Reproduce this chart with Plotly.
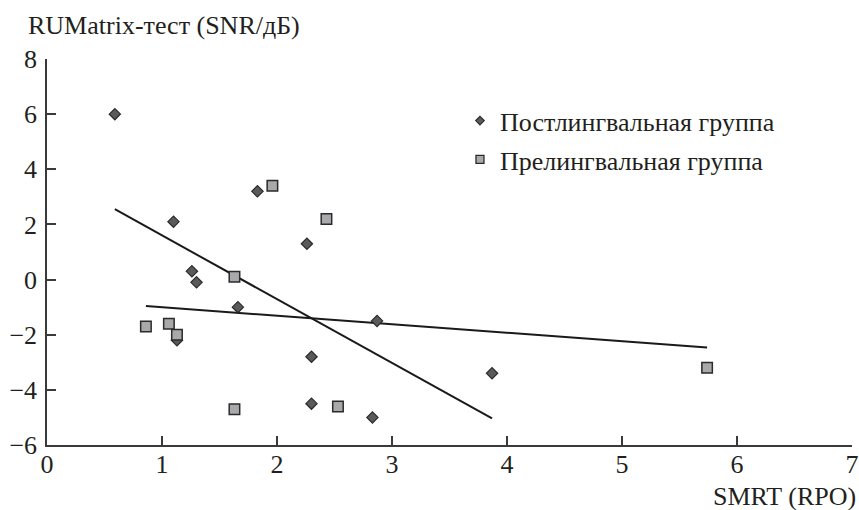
import numpy as np
import plotly.graph_objects as go

# Postlingual group (SMRT RPO, RUMatrix SNR dB)
post_x = [0.59, 1.83, 1.10, 2.26, 1.26, 1.30, 1.66, 2.87, 1.13, 2.30, 2.30, 2.83, 3.87]
post_y = [6.0, 3.2, 2.1, 1.3, 0.3, -0.1, -1.0, -1.5, -2.2, -2.8, -4.5, -5.0, -3.4]

# Prelingual group
pre_x = [1.96, 2.43, 1.63, 0.86, 1.06, 1.13, 1.63, 2.53, 5.74]
pre_y = [3.4, 2.2, 0.1, -1.7, -1.6, -2.0, -4.7, -4.6, -3.2]

x_ticks = [0, 1, 2, 3, 4, 5, 6, 7]
y_ticks = [-6, -4, -2, 0, 2, 4, 6, 8]

legend_post = "Постлингвальная группа"
legend_pre = "Прелингвальная группа"
y_title = "RUMatrix-тест (SNR/дБ)"
x_title = "SMRT (RPO)"

FONT = "Liberation Serif"
FS = 26
TXT = "#231f20"
AX = "#3a3a3a"
POST_FILL = "#5a5a5a"
PRE_FILL = "#a9a9ac"
EDGE = "#2b2b2b"


def fit_line(xs, ys):
    xs = np.asarray(xs, float)
    ys = np.asarray(ys, float)
    k, b = np.polyfit(xs, ys, 1)
    lx = np.array([xs.min(), xs.max()])
    return lx, k * lx + b


fig = go.Figure()

plx, ply = fit_line(post_x, post_y)
prx, pry = fit_line(pre_x, pre_y)

fig.add_trace(go.Scatter(x=plx, y=ply, mode="lines", line=dict(color="#1a1a1a", width=2),
                         showlegend=False, hoverinfo="skip"))
fig.add_trace(go.Scatter(x=prx, y=pry, mode="lines", line=dict(color="#1a1a1a", width=2),
                         showlegend=False, hoverinfo="skip"))

fig.add_trace(go.Scatter(x=post_x, y=post_y, mode="markers", name=legend_post, showlegend=False,
                         marker=dict(symbol="diamond", size=8.7, color=POST_FILL,
                                     line=dict(color=EDGE, width=1.2))))
fig.add_trace(go.Scatter(x=pre_x, y=pre_y, mode="markers", name=legend_pre, showlegend=False,
                         marker=dict(symbol="square", size=10.5, color=PRE_FILL,
                                     line=dict(color=EDGE, width=1.5))))

# legend entries (smaller symbols, as in the reference legend)
fig.add_trace(go.Scatter(x=[None], y=[None], mode="markers", name=legend_post, legendgroup="a",
                         marker=dict(symbol="diamond", size=6.5, color=POST_FILL,
                                     line=dict(color=EDGE, width=1.2))))
fig.add_trace(go.Scatter(x=[None], y=[None], mode="markers", name=legend_pre, legendgroup="b",
                         marker=dict(symbol="square", size=8, color=PRE_FILL,
                                     line=dict(color=EDGE, width=1.3))))

fig.update_layout(
    width=859, height=510,
    margin=dict(l=47, r=7, t=59, b=65),
    paper_bgcolor="white", plot_bgcolor="white",
    font=dict(family=FONT, size=FS, color=TXT),
    showlegend=True,
    legend=dict(x=0.513, y=0.901, xanchor="left", yanchor="top", bgcolor="rgba(0,0,0,0)",
                font=dict(family=FONT, size=FS, color=TXT), tracegroupgap=2,
                traceorder="grouped"),
    xaxis=dict(range=[0, 7], tickvals=x_ticks, ticktext=[str(v) for v in x_ticks],
               showgrid=False, zeroline=False, showline=True, linecolor=AX, linewidth=1.5,
               ticks="inside", ticklen=9, tickwidth=1.5, tickcolor=AX, automargin=False,
               ticklabelstandoff=-5,
               tickfont=dict(family=FONT, size=FS, color=TXT)),
    yaxis=dict(range=[-6, 8], tickvals=y_ticks,
               ticktext=[("\u2212" + str(-v)) if v < 0 else str(v) for v in y_ticks],
               showgrid=False, zeroline=False, showline=True, linecolor=AX, linewidth=1.5,
               ticks="inside", ticklen=9, tickwidth=1.5, tickcolor=AX, automargin=False,
               ticklabelstandoff=3,
               tickfont=dict(family=FONT, size=FS, color=TXT)),
    annotations=[
        dict(text=y_title, xref="paper", yref="paper", x=-0.026, y=1.086,
             xanchor="left", yanchor="middle", showarrow=False,
             font=dict(family=FONT, size=FS, color=TXT)),
        dict(text=x_title, xref="paper", yref="paper", x=1.0075, y=-0.134,
             xanchor="right", yanchor="middle", showarrow=False,
             font=dict(family=FONT, size=FS, color=TXT)),
    ],
)

fig.write_html("out.html", config={"displayModeBar": False},
               post_script="document.body.style.margin='0';")
